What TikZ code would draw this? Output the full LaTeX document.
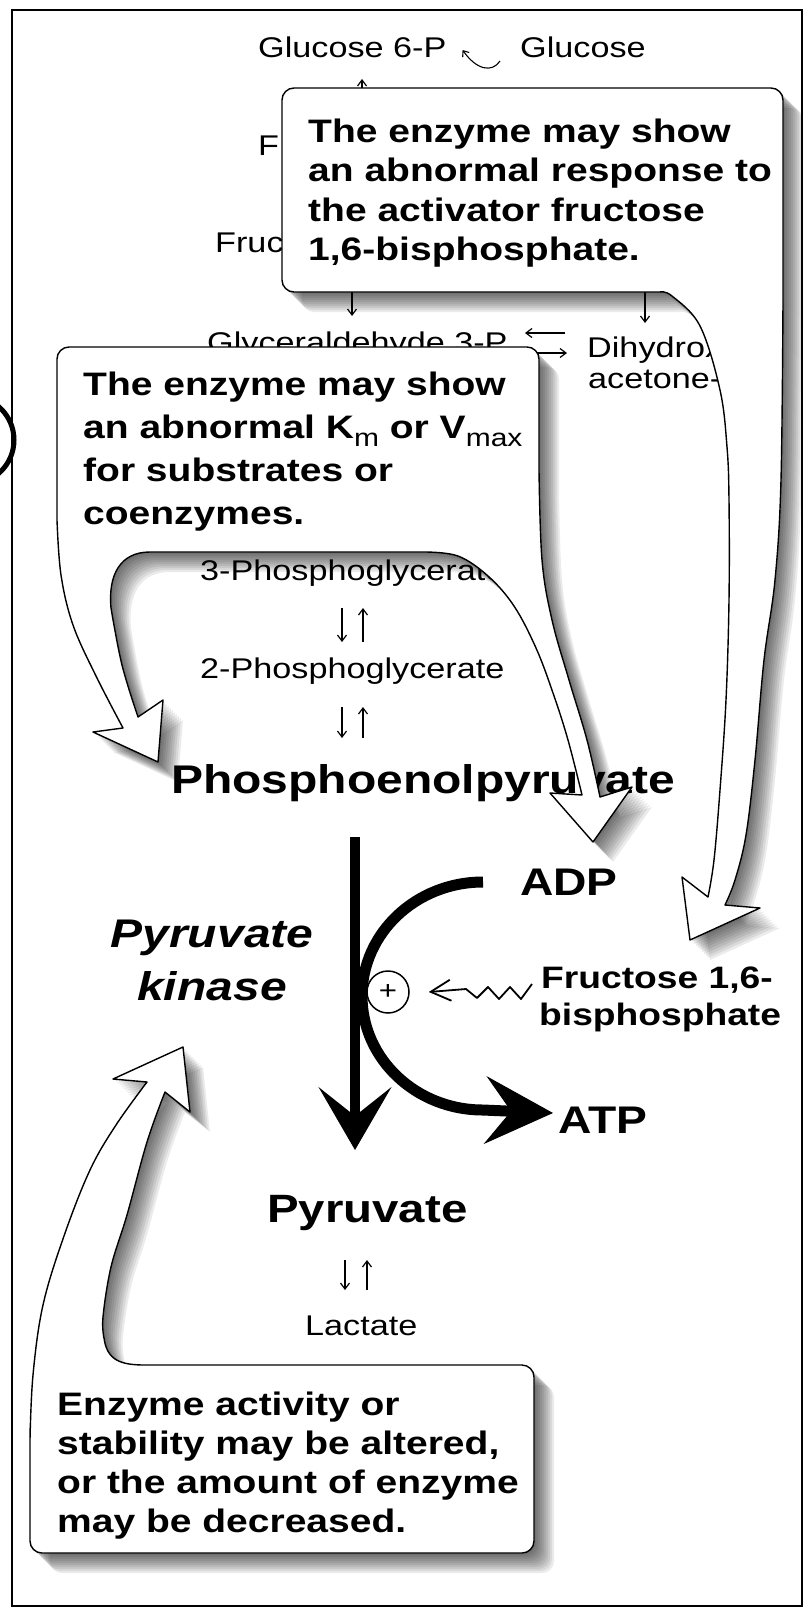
\documentclass[tikz,border=0pt]{standalone}
\usepackage{fontspec}
\setmainfont{Liberation Sans}[FakeStretch=1.2]
\usetikzlibrary{arrows.meta}

% outlines of the three callouts (box plus white arrow tails)
\newcommand\boxonepath{(660,292) [rounded corners=12pt] -- (282,292) -- (282,88) -- (783,88) -- (783,300) [sharp corners]
  -- plot[smooth, tension=0.6] coordinates {(783,300) (781,480) (775,580) (764,660) (755,760) (746,835) (735,880) (725,905)}
  -- (760,908) -- (690,940) -- (682,877) -- (708,897)
  -- plot[smooth, tension=0.6] coordinates {(708,897) (714,860) (720,790) (726,700) (729,600) (729,500) (727,447) (720,390) (700,326) (672,296) (660,292)}
  -- cycle}
\newcommand\boxtwopath{(300,347) [rounded corners=12pt] -- (539,347) -- (539,470) [sharp corners]
  -- plot[smooth, tension=0.6] coordinates {(539,470) (542,560) (552,620) (569,680) (587,740) (600,797)}
  -- (632,787) -- (593,842) -- (550,793) -- (582,795)
  -- plot[smooth, tension=0.6] coordinates {(582,795) (568,740) (553,693) (536,648) (514,606) (488,576) (458,556) (425,552)}
  -- (150,552) .. controls (120,552) and (108,575) .. (111,608)
  -- plot[smooth, tension=0.6] coordinates {(111,608) (122,665) (138,717)}
  -- (163,700) -- (158,762) -- (93,732) -- (123,728)
  -- plot[smooth, tension=0.6] coordinates {(123,728) (96,676) (73,625) (61,575) (57,520)}
  [rounded corners=12pt] -- (57,347) -- cycle}
\newcommand\boxthreepath{(300,1365) [rounded corners=12pt] -- (534,1365) -- (534,1553) -- (30,1553) -- (30,1440) [sharp corners]
  -- plot[smooth, tension=0.6] coordinates {(30,1440) (33,1375) (43,1305) (64,1236) (90,1170) (116,1125) (147,1082)}
  -- (113,1079) -- (183,1047) -- (190,1112) -- (165,1092)
  -- plot[smooth, tension=0.6] coordinates {(165,1092) (147,1142) (127,1215) (111,1267) (103,1317) (104,1338)}
  .. controls (107,1360) and (120,1365) .. (145,1365) -- cycle}
\newcommand\lowsub[1]{\raisebox{-8pt}{\mdseries\fontsize{25}{25}\selectfont #1}}

\tikzset{
  metab/.style={inner sep=0pt, anchor=base west, font=\fontsize{28.5}{34}\selectfont},
  bigmetab/.style={inner sep=0pt, anchor=base west, font=\bfseries\fontsize{39.5}{46}\selectfont},
  enzlabel/.style={inner sep=0pt, anchor=base, font=\bfseries\itshape\fontsize{40}{48}\selectfont},
  calltext/.style={inner sep=0pt, anchor=base west, font=\bfseries\fontsize{32.5}{39}\selectfont},
  callout/.style={draw, line width=1.4pt, fill=white, line join=round},
  eqarrow/.style={line width=1.2pt, -{Straight Barb[length=6pt, width=9pt]}},
}

\begin{document}
\begin{tikzpicture}[x=1pt, y=-1pt]
\useasboundingbox (0,0) rectangle (807,1609);

% frame and binder hole
\draw[line width=1.5pt] (12,10) rectangle (802,1606);
\draw[line width=5pt] (-30,440) circle[radius=44pt];

% upper pathway, mostly under the callouts
\node[metab] (glc6p) at (258,57) {Glucose 6-P};
\node[metab] (glc) at (520,57) {Glucose};
\draw[line width=1.1pt, -{Straight Barb[length=5pt, width=8pt]}] ([xshift=-20pt, yshift=-4pt]glc.base west)
  .. controls +(-8,12) and +(14,20) .. ([xshift=16pt, yshift=7pt]glc6p.base east);
\draw[eqarrow] (glc6p.base west) ++(104,63) -- ++(0,-41);
\node[metab] (f6p) at (258,155) {F};
\node[metab] (fbp) at (215,252) {Fruc};
\draw[eqarrow] (fbp.base west) ++(137,13) -- ++(0,51);
\draw[eqarrow] (fbp.base west) ++(430,18) -- ++(0,53);
\node[metab] (gap) at (207,352) {Glyceraldehyde 3-P};
\draw[eqarrow] (gap.base west) ++(358,-19) -- ++(-40,0);
\draw[eqarrow] (gap.base west) ++(320,1) -- ++(40,0);
\node[metab] (dhap) at (587,357) {Dihydroxy-};
\node[metab] (dhapb) at (588,388) {acetone-P};

% lower pathway
\node[metab] (pg3) at (200,580) {3-Phosphoglycerate};
\draw[eqarrow] (pg3.base west) ++(142,28) -- ++(0,34);
\draw[eqarrow] (pg3.base west) ++(163,62) -- ++(0,-34);
\node[metab] (pg2) at (200,678) {2-Phosphoglycerate};
\draw[eqarrow] (pg2.base west) ++(142,29) -- ++(0,31);
\draw[eqarrow] (pg2.base west) ++(163,60) -- ++(0,-31);
\node[bigmetab, font=\bfseries\fontsize{40}{46}\selectfont] (pep) at (171,793) {Phosphoenolpyruvate};
\node[bigmetab] (pyr) at (267,1222) {Pyruvate};
\node[metab] (lac) at (305,1335) {Lactate};
\draw[eqarrow] (lac.base west) ++(40,-75) -- ++(0,30);
\draw[eqarrow] (lac.base west) ++(62,-45) -- ++(0,-30);

% pyruvate kinase step
\node[enzlabel] (pk1) at (212,947) {Pyruvate};
\node[enzlabel] (pk2) at (212,1000) {kinase};
\node[bigmetab, font=\bfseries\fontsize{38.5}{44}\selectfont] (adp) at (520,895) {ADP};
\node[bigmetab, font=\bfseries\fontsize{38.5}{44}\selectfont] (atp) at (558,1133) {ATP};
\node[calltext, font=\bfseries\fontsize{31}{37}\selectfont] (fbpa) at (541,988) {Fructose 1,6-};
\node[calltext, font=\bfseries\fontsize{31}{37}\selectfont] (fbpb) at (539,1025) {bisphosphate};
\coordinate (shafttop) at (355,837);
\coordinate (shaftend) at (355,1150);
\draw[line width=10pt, -{Stealth[length=63pt, width=73pt, inset=29pt, line width=1pt]}] (shafttop) -- (shaftend);
\draw[line width=11pt, -{Stealth[length=68pt, width=68pt, inset=26pt, line width=1pt]}] ([xshift=-37pt, yshift=13pt]adp.base west)
  arc[start angle=90, end angle=270, x radius=121pt, y radius=114pt] -- ([xshift=-5pt, yshift=20pt]atp.base west);
\node[circle, draw, line width=1.5pt, minimum size=42pt, inner sep=0pt, font=\fontsize{26}{26}\selectfont] (plus) at (388,992) {+};
\draw[line width=1.8pt, line join=round, -{Straight Barb[length=20pt, width=21pt]}] ([xshift=-9pt, yshift=4pt]fbpa.base west)
  -- ++(-11,15) -- ++(-11,-12) -- ++(-11,12) -- ++(-11,-12) -- ++(-11,11) -- ++(-11,-9) -- ([xshift=19pt]plus.east);

% shadows, then callouts
\foreach \d in {2,4,...,20} {
  \fill[black, opacity=0.08, shift={(\d,\d)}] \boxonepath;
  \fill[black, opacity=0.08, shift={(\d,\d)}] \boxtwopath;
  \fill[black, opacity=0.08, shift={(\d,\d)}] \boxthreepath;
}
\draw[callout] \boxonepath;
\draw[callout] \boxtwopath;
\draw[callout] \boxthreepath;

% callout texts
\foreach \txt [count=\i from 0] in {The enzyme may show, an abnormal response to, the activator fructose, {1,6-bisphosphate.}}
  \node[calltext] (resp\i) at (308, {142+39.5*\i}) {\txt};
\foreach \txt [count=\i from 0] in {The enzyme may show, an abnormal K\lowsub{m} or V\lowsub{max}, for substrates or, coenzymes.}
  \node[calltext] (kin\i) at (83, {395+43.3*\i}) {\txt};
\foreach \txt [count=\i from 0] in {Enzyme activity or, {stability may be altered,}, or the amount of enzyme, may be decreased.}
  \node[calltext] (stab\i) at (57, {1415+39.3*\i}) {\txt};
\end{tikzpicture}
\end{document}
